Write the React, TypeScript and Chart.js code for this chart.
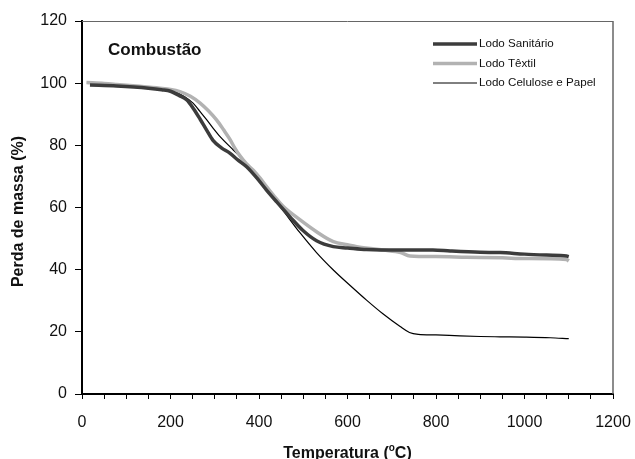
import React, { useEffect, useRef } from "react";
import { Chart, registerables } from "chart.js";

Chart.register(...registerables);

// ---- data ----
const sanitarioT = [18, 78, 150, 180, 200, 220, 237, 252, 267, 282, 296, 315, 334, 352, 372, 395, 417, 440, 470, 500, 530, 568, 600, 643, 719, 793, 832, 900, 945, 1000, 1050, 1095, 1100];
const sanitarioM = [99.4, 99.1, 98.4, 97.9, 97.4, 96.0, 94.6, 91.8, 88.4, 84.8, 81.6, 79.2, 77.5, 75.3, 73.1, 69.5, 65.6, 61.8, 57.0, 52.5, 49.3, 47.4, 47.0, 46.5, 46.3, 46.3, 46.0, 45.6, 45.5, 45.0, 44.7, 44.4, 44.2];

const textilT = [10, 50, 78, 130, 176, 200, 221, 245, 267, 285, 304, 320, 334, 345, 357, 372, 387, 402, 417, 435, 455, 493, 530, 568, 600, 621, 681, 720, 741, 800, 869, 950, 1000, 1095, 1100];
const textilM = [100.2, 99.9, 99.6, 99.0, 98.4, 98.0, 97.3, 95.8, 93.6, 91.2, 88.2, 85.0, 82.0, 79.2, 76.6, 74.0, 72.0, 69.5, 66.7, 63.5, 60.3, 56.0, 52.2, 49.0, 48.0, 47.4, 46.3, 45.5, 44.4, 44.2, 44.0, 43.8, 43.6, 43.3, 42.8];

const celuloseT = [20, 100, 150, 190, 206, 230, 251, 266, 282, 297, 312, 342, 372, 400, 432, 455, 493, 530, 568, 606, 643, 680, 719, 740, 760, 800, 854, 900, 945, 1000, 1058, 1100];
const celuloseM = [99.6, 98.9, 98.3, 97.9, 97.5, 95.8, 93.6, 91.0, 88.2, 85.4, 82.8, 78.5, 74.2, 69.0, 63.2, 58.9, 51.8, 45.5, 39.9, 34.9, 30.2, 25.8, 21.7, 19.8, 19.2, 19.0, 18.7, 18.5, 18.4, 18.3, 18.1, 17.8];

const seriesNames = ["Lodo Sanitário", "Lodo Têxtil", "Lodo Celulose e Papel"];
const xTicksMajor = [0, 200, 400, 600, 800, 1000, 1200];
const yTicks = [0, 20, 40, 60, 80, 100, 120];
const chartTitle = "Combustão";
const yTitle = "Perda de massa (%)";

const FONT = "'Liberation Sans', Arial, sans-serif";

const toPts = (xs: number[], ys: number[]) => xs.map((x, i) => ({ x, y: ys[i] }));

const decorPlugin = {
  id: "decor",
  afterDraw(chart: any) {
    const { ctx, chartArea } = chart;
    const { left, right, top, bottom } = chartArea;
    ctx.save();
    // top & right frame
    ctx.strokeStyle = "#666";
    ctx.lineWidth = 1;
    ctx.beginPath();
    ctx.moveTo(left, top + 0.5);
    ctx.lineTo(right, top + 0.5);
    ctx.stroke();
    ctx.lineWidth = 1.5;
    ctx.beginPath();
    ctx.moveTo(right, top);
    ctx.lineTo(right, bottom);
    ctx.stroke();

    // chart title inside
    ctx.fillStyle = "#111";
    ctx.font = `bold 17px ${FONT}`;
    ctx.textAlign = "left";
    ctx.textBaseline = "alphabetic";
    ctx.fillText(chartTitle, left + 26, top + 34);

    // legend
    const ds = chart.data.datasets;
    const lx0 = right - 180;
    const lx1 = right - 136;
    ds.forEach((d: any, i: number) => {
      const y = top + 23 + i * 19.5;
      ctx.strokeStyle = d.borderColor;
      ctx.lineWidth = i === 2 ? 1 : 3.5;
      ctx.beginPath();
      ctx.moveTo(lx0, y);
      ctx.lineTo(lx1, y);
      ctx.stroke();
      ctx.fillStyle = "#111";
      ctx.font = `11.6px ${FONT}`;
      ctx.textBaseline = "middle";
      ctx.fillText(d.label, lx1 + 2, y);
    });

    // y title
    ctx.save();
    ctx.translate(19, (top + bottom) / 2 + 4);
    ctx.rotate(-Math.PI / 2);
    ctx.font = `bold 16px ${FONT}`;
    ctx.textAlign = "center";
    ctx.textBaseline = "middle";
    ctx.fillStyle = "#111";
    ctx.fillText(yTitle, 0, 0);
    ctx.restore();

    // x title with superscript o
    const p1 = "Temperatura (";
    const sup = "o";
    const p2 = "C)";
    ctx.font = `bold 16px ${FONT}`;
    const w1 = ctx.measureText(p1).width;
    const w2 = ctx.measureText(p2).width;
    ctx.font = `bold 10px ${FONT}`;
    const ws = ctx.measureText(sup).width;
    const total = w1 + ws + w2;
    const cx = (left + right) / 2;
    let x = cx - total / 2;
    const base = 458;
    ctx.textAlign = "left";
    ctx.textBaseline = "alphabetic";
    ctx.fillStyle = "#111";
    ctx.font = `bold 16px ${FONT}`;
    ctx.fillText(p1, x, base);
    x += w1;
    ctx.font = `bold 10px ${FONT}`;
    ctx.fillText(sup, x, base - 7);
    x += ws;
    ctx.font = `bold 16px ${FONT}`;
    ctx.fillText(p2, x, base);
    ctx.restore();
  },
};

export default function App() {
  const ref = useRef<HTMLCanvasElement | null>(null);
  useEffect(() => {
    document.body.style.margin = "0";
    if (!ref.current) return;
    const mk = (label: string, xs: number[], ys: number[], color: string, w: number) => ({
      label,
      data: toPts(xs, ys),
      borderColor: color,
      borderWidth: w,
      pointRadius: 0,
      cubicInterpolationMode: "monotone" as const,
    });
    const chart = new Chart(ref.current, {
      type: "line",
      data: {
        datasets: [
          mk(seriesNames[0], sanitarioT, sanitarioM, "#3c3c3c", 3.5),
          mk(seriesNames[1], textilT, textilM, "#b2b2b2", 3.5),
          mk(seriesNames[2], celuloseT, celuloseM, "#000000", 1.2),
        ],
      },
      options: {
        responsive: false,
        animation: false,
        layout: { padding: { top: 21, right: 22, left: 0, bottom: 0 } },
        plugins: { legend: { display: false }, tooltip: { enabled: false } },
        scales: {
          x: {
            type: "linear",
            min: 0,
            max: 1200,
            afterFit: (s: any) => {
              s.height = 65;
              s.paddingLeft = 0;
              s.paddingRight = 0;
            },
            afterBuildTicks: (s: any) => {
              const t = [];
              for (let v = 0; v <= 1200; v += 50) t.push({ value: v });
              s.ticks = t;
            },
            ticks: {
              autoSkip: false,
              maxRotation: 0,
              padding: 14,
              color: "#111",
              font: { family: FONT, size: 16 },
              callback: (v: any) => (xTicksMajor.includes(Number(v)) ? String(v) : ""),
            },
            grid: { drawOnChartArea: false, color: "#000", tickLength: 5, lineWidth: 1 },
            border: { color: "#000", width: 2 },
          },
          y: {
            min: 0,
            max: 120,
            afterFit: (s: any) => {
              s.width = 82;
            },
            afterBuildTicks: (s: any) => {
              s.ticks = yTicks.map((v) => ({ value: v }));
            },
            ticks: {
              padding: 8,
              color: "#111",
              font: { family: FONT, size: 16 },
            },
            grid: { drawOnChartArea: false, color: "#000", tickLength: 7, lineWidth: 1 },
            border: { color: "#000", width: 2 },
          },
        },
      },
      plugins: [decorPlugin],
    });
    return () => chart.destroy();
  }, []);
  return (
    <div style={{ width: 635, height: 459 }}>
      <canvas ref={ref} width={635} height={459} style={{ display: "block" }} />
    </div>
  );
}
